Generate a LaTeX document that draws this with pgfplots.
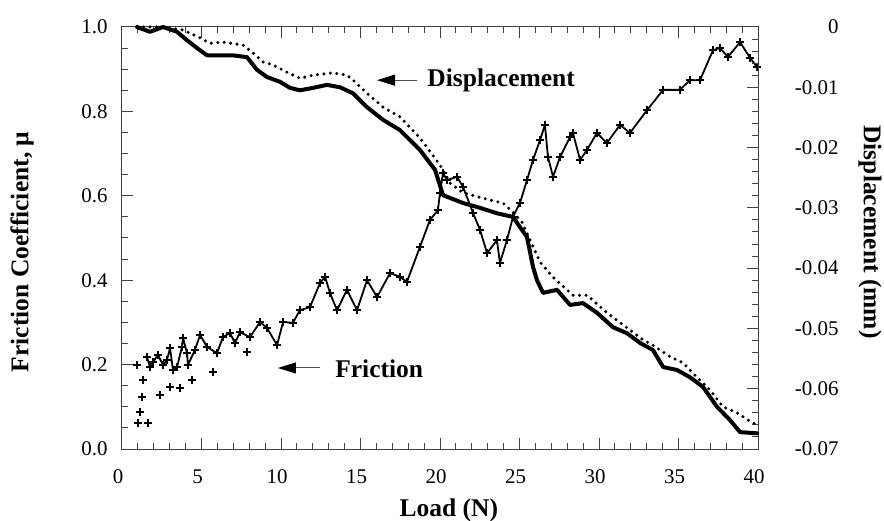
\documentclass[border=0pt]{standalone}
\usepackage{fontspec}
\setmainfont{Liberation Serif}
\usepackage{pgfplots}
\usepackage{pgfplotstable}
\pgfplotsset{compat=1.18}
\usetikzlibrary{arrows.meta}

\pgfplotstableread{
x y
0.94 0.199
1.01 0.062
1.64 0.062
1.13 0.088
1.26 0.123
1.32 0.163
2.39 0.128
3.02 0.147
3.65 0.145
4.40 0.163
5.72 0.182
7.86 0.230
}\frictionscatter

\pgfplotstableread{
x y
1.57 0.218
1.76 0.194
1.95 0.206
2.26 0.223
2.58 0.199
2.83 0.211
3.02 0.239
3.21 0.187
3.46 0.194
3.77 0.242
3.84 0.263
4.09 0.227
4.15 0.199
4.59 0.235
4.91 0.270
5.35 0.242
5.97 0.227
6.35 0.265
6.79 0.275
7.11 0.251
7.42 0.277
8.05 0.265
8.68 0.301
9.12 0.287
9.75 0.246
10.13 0.301
10.75 0.299
11.19 0.329
11.82 0.336
12.45 0.393
12.77 0.408
13.08 0.370
13.52 0.329
14.15 0.377
14.78 0.329
15.41 0.400
16.04 0.360
16.86 0.417
17.48 0.408
17.92 0.396
18.74 0.479
19.37 0.543
19.87 0.566
20.00 0.607
20.19 0.654
20.44 0.637
21.07 0.645
21.45 0.621
22.08 0.559
22.52 0.519
22.96 0.464
23.58 0.495
23.77 0.441
24.21 0.495
24.59 0.550
25.03 0.583
25.47 0.637
25.85 0.685
26.29 0.732
26.60 0.768
26.79 0.692
27.11 0.645
27.55 0.692
28.18 0.739
28.36 0.749
28.81 0.685
29.25 0.709
29.87 0.749
30.50 0.725
31.32 0.768
31.95 0.749
33.02 0.803
34.03 0.851
35.09 0.851
35.72 0.874
36.35 0.874
37.17 0.945
37.61 0.950
38.11 0.929
38.87 0.964
39.50 0.927
39.94 0.905
}\frictionmain

\pgfplotstableread{
x y
0.94 0
1.76 -0.0008
2.58 0
3.46 -0.0008
4.09 -0.0022
4.72 -0.0035
5.35 -0.0047
5.97 -0.0047
6.98 -0.0047
7.86 -0.0050
8.49 -0.0071
9.12 -0.0083
9.94 -0.0091
10.57 -0.0101
11.19 -0.0105
12.01 -0.0101
12.89 -0.0096
13.71 -0.0100
14.53 -0.0110
15.41 -0.0133
16.42 -0.0154
17.48 -0.0171
18.74 -0.0204
19.69 -0.0237
20.19 -0.0279
21.45 -0.0292
22.52 -0.0300
23.58 -0.0309
24.59 -0.0315
25.03 -0.0332
25.47 -0.0348
25.85 -0.0398
26.10 -0.0420
26.48 -0.0441
27.36 -0.0436
28.18 -0.0461
28.99 -0.0458
29.87 -0.0474
30.88 -0.0498
31.76 -0.0508
32.58 -0.0524
33.40 -0.0536
34.03 -0.0564
34.91 -0.0569
35.72 -0.0581
36.54 -0.0597
37.42 -0.0630
38.24 -0.0652
38.87 -0.0672
39.94 -0.0674
}\dispsolid

\pgfplotstableread{
x y
0.94 0
2.58 0
3.84 -0.0005
4.91 -0.0018
5.53 -0.0027
6.35 -0.0025
7.61 -0.0030
8.24 -0.0043
8.87 -0.0058
9.50 -0.0063
10.38 -0.0075
11.19 -0.0085
12.01 -0.0080
13.27 -0.0076
14.15 -0.0080
14.53 -0.0088
15.41 -0.0110
16.42 -0.0133
17.48 -0.0149
18.74 -0.0184
20.00 -0.0229
20.63 -0.0259
21.45 -0.0275
23.14 -0.0287
23.96 -0.0292
24.59 -0.0307
25.16 -0.0324
25.66 -0.0353
26.29 -0.0390
27.11 -0.0415
28.36 -0.0445
29.25 -0.0445
30.50 -0.0474
31.76 -0.0499
32.77 -0.0519
33.40 -0.0528
34.47 -0.0547
35.28 -0.0557
36.16 -0.0581
36.98 -0.0602
37.80 -0.0630
38.68 -0.0640
39.37 -0.0652
39.94 -0.0660
}\dispdotted

\begin{document}
\begin{tikzpicture}
\path[use as bounding box] (-122bp,-72bp) rectangle (762bp,449bp);
\begin{axis}[
  scale only axis, width=636bp, height=422bp,
  xmin=0, xmax=40, ymin=0, ymax=1,
  xtick={0,5,10,15,20,25,30,35,40},
  minor xtick={1,2,3,4,6,7,8,9,11,12,13,14,16,17,18,19,21,22,23,24,26,27,28,29,31,32,33,34,36,37,38,39},
  ytick={0,0.2,0.4,0.6,0.8,1},
  minor ytick={0.05,0.1,0.15,0.25,0.3,0.35,0.45,0.5,0.55,0.65,0.7,0.75,0.85,0.9,0.95},
  ytick pos=left,
  tick align=inside,
  major tick length=11bp, minor tick length=6bp,
  axis line style={black!75, line width=1bp},
  tick style={black!75, line width=1bp},
  /pgf/number format/assume math mode=true,
  tick label style={font=\fontsize{21}{24}\selectfont},
  xticklabel style={yshift=-17bp, xshift=-4bp},
  yticklabel style={xshift=-11bp, /pgf/number format/fixed, /pgf/number format/fixed zerofill, /pgf/number format/precision=1},
  xlabel={Load (N)},
  ylabel={Friction Coefficient, μ},
  every axis x label/.style={at={(axis description cs:0.514,-0.1445)}, anchor=center, font=\fontsize{25.6}{30}\selectfont\bfseries},
  every axis y label/.style={at={(axis description cs:-0.157,0.467)}, rotate=90, anchor=center, font=\fontsize{25.6}{30}\selectfont\bfseries},
  clip=false,
]
\addplot[only marks, mark=+, mark size=4.2bp, black, mark options={line width=1.5bp}] table {\frictionscatter};
\addplot[black, line width=1.8bp, line join=round, mark=+, mark size=4.2bp, mark options={line width=1.5bp}] table {\frictionmain};
\draw[black!70, line width=1bp, -{Triangle[length=18bp,width=11bp,black]}] (axis cs:18.55,0.874) -- (axis cs:16.04,0.874);
\node[anchor=west, inner sep=0pt, font=\fontsize{25.6}{30}\selectfont\bfseries] at (axis cs:19.2,0.874) {Displacement};
\draw[black!70, line width=1bp, -{Triangle[length=18bp,width=11bp,black]}] (axis cs:12.45,0.192) -- (axis cs:9.81,0.192);
\node[anchor=west, inner sep=0pt, font=\fontsize{25.6}{30}\selectfont\bfseries] at (axis cs:13.4,0.19) {Friction};
\end{axis}
\begin{axis}[
  scale only axis, width=636bp, height=422bp,
  xmin=0, xmax=40, ymin=-0.07, ymax=0,
  axis x line=none, axis y line*=right,
  ytick={-0.07,-0.06,-0.05,-0.04,-0.03,-0.02,-0.01,0},
  minor ytick={-0.068,-0.066,-0.064,-0.062,-0.058,-0.056,-0.054,-0.052,-0.048,-0.046,-0.044,-0.042,-0.038,-0.036,-0.034,-0.032,-0.028,-0.026,-0.024,-0.022,-0.018,-0.016,-0.014,-0.012,-0.008,-0.006,-0.004,-0.002},
  scaled y ticks=false,
  tick align=inside,
  major tick length=11bp, minor tick length=6bp,
  axis line style={black!75, line width=1bp},
  tick style={black!75, line width=1bp},
  /pgf/number format/assume math mode=true,
  tick label style={font=\fontsize{21}{24}\selectfont},
  yticklabel style={anchor=east, xshift=84bp, /pgf/number format/fixed, /pgf/number format/precision=2},
  ylabel={Displacement (mm)},
  every axis y label/.style={at={(axis description cs:1.176,0.514)}, rotate=-90, anchor=center, font=\fontsize{25.6}{30}\selectfont\bfseries},
  clip=false,
]
\addplot[black, line width=4bp, line join=round, line cap=round] table {\dispsolid};
\addplot[black, line width=3.4bp, line cap=round, dash pattern=on 0pt off 6.5pt] table {\dispdotted};
\end{axis}
\end{tikzpicture}
\end{document}
